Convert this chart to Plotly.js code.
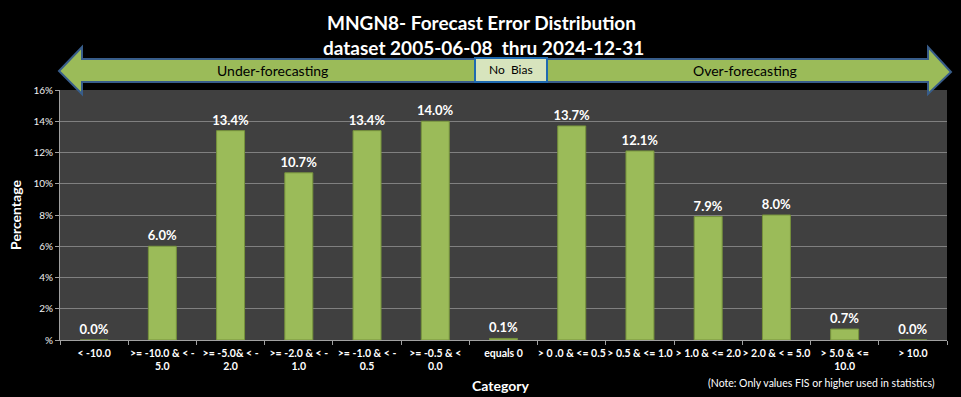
<!DOCTYPE html>
<html>
<head>
<meta charset="utf-8">
<script src="https://cdn.plot.ly/plotly-3.0.1.min.js"></script>
<style>html,body{margin:0;padding:0;background:#000;}#chart{width:961px;height:397px;}</style>
</head>
<body>
<div id="chart"></div>
<script>
var categories = ["< -10.0", ">= -10.0 & < -<br>5.0", ">= -5.0& < -<br>2.0", ">= -2.0 & < -<br>1.0", ">= -1.0 & < -<br>0.5", ">= -0.5 & <<br>0.0", "equals 0", "> 0 .0 & <= 0.5", "> 0.5 & <= 1.0", "> 1.0 & <= 2.0", "> 2.0 & < = 5.0", "> 5.0 & <=<br>10.0", "> 10.0"];
var percentages = [0.0, 6.0, 13.4, 10.7, 13.4, 14.0, 0.1, 13.7, 12.1, 7.9, 8.0, 0.7, 0.0];
var yTickVals = [0, 2, 4, 6, 8, 10, 12, 14, 16];
var yTickText = ["%", "2%", "4%", "6%", "8%", "10%", "12%", "14%", "16%"];

var FONT = "Lato, 'Liberation Sans', sans-serif";
var W = 961, H = 397, L = 60, R = 947, T = 90, B = 340;
function px(x){ return (x - L) / (R - L); }
function py(y){ return (B - y) / (B - T); }
function path(pts){ return 'M ' + pts.map(function(p){ return px(p[0]).toFixed(4) + ',' + py(p[1]).toFixed(4); }).join(' L ') + ' Z'; }

var arrow = path([[59,71],[82,47],[82,59],[928,59],[928,47],[951,72],[928,94],[928,82],[82,82],[82,94]]);

var trace = {
  type: 'bar',
  x: categories,
  y: percentages,
  width: 0.41,
  marker: {color: '#9BBB59', line: {color: '#76923C', width: 1}},
  text: percentages.map(function(v){ return v.toFixed(1) + '%'; }),
  textposition: 'outside',
  constraintext: 'none',
  cliponaxis: false,
  textfont: {family: FONT, size: 13, color: '#FFFFFF', weight: 'bold'},
  hoverinfo: 'skip'
};

function ann(x, y, text, size, color, bold, anchor){
  return {xref: 'paper', yref: 'paper', x: px(x), y: py(y), xanchor: anchor || 'center', yanchor: 'middle', text: text, showarrow: false,
          font: {family: FONT, size: size, color: color, weight: bold ? 'bold' : 'normal'}};
}

var layout = {
  width: W, height: H,
  margin: {l: L, r: W - R, t: T, b: H - B},
  paper_bgcolor: '#000000',
  plot_bgcolor: '#404040',
  showlegend: false,
  bargap: 0.59,
  xaxis: {
    type: 'category',
    tickson: 'boundaries',
    tickangle: 0,
    ticks: 'outside', ticklen: 4, tickcolor: '#A0A0A0',
    ticklabelstandoff: 3,
    showline: true, linecolor: '#A0A0A0',
    tickfont: {family: FONT, size: 10.5, color: '#FFFFFF', weight: 'bold'},
    fixedrange: true
  },
  yaxis: {
    range: [0, 16],
    tickvals: yTickVals, ticktext: yTickText,
    ticks: 'outside', ticklen: 4, tickcolor: '#A0A0A0',
    showline: true, linecolor: '#A0A0A0',
    gridcolor: '#808080', gridwidth: 1,
    zeroline: false,
    tickfont: {family: FONT, size: 10, color: '#F0F0F0'},
    title: {text: 'Percentage', font: {family: FONT, size: 14, color: '#FFFFFF', weight: 'bold'}, standoff: 8},
    fixedrange: true
  },
  shapes: [
    {type: 'path', xref: 'paper', yref: 'paper', path: arrow, fillcolor: '#9BBB59', line: {color: '#385D8A', width: 2}, layer: 'above'},
    {type: 'rect', xref: 'paper', yref: 'paper', x0: px(475), x1: px(547), y0: py(82), y1: py(58), fillcolor: '#D7E4BD', line: {color: '#1F6AB0', width: 2}, layer: 'above'}
  ],
  annotations: [
    ann(481, 22, 'MNGN8- Forecast Error Distribution', 19, '#FFFFFF', true),
    ann(483, 47, 'dataset 2005-06-08  thru 2024-12-31', 19, '#FFFFFF', true),
    ann(272, 71, 'Under-forecasting', 14, '#000000', false),
    ann(511, 70, 'No  Bias', 12, '#000000', false),
    ann(745, 71, 'Over-forecasting', 14, '#000000', false),
    ann(500, 385, 'Category', 14, '#FFFFFF', true),
    ann(937, 383, '(Note: Only values FIS or higher used in statistics)', 10.5, '#FFFFFF', false, 'right')
  ]
};

Plotly.newPlot('chart', [trace], layout, {displayModeBar: false, staticPlot: true});
</script>
</body>
</html>
